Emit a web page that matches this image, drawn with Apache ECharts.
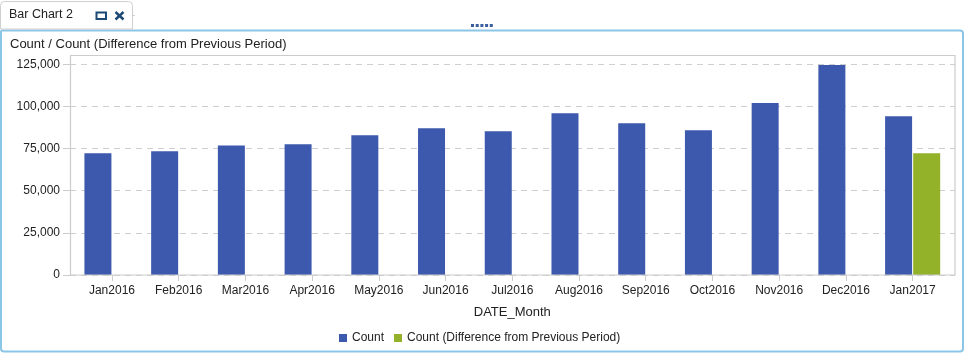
<!DOCTYPE html>
<html>
<head>
<meta charset="utf-8">
<script src="https://cdn.jsdelivr.net/npm/echarts@6/dist/echarts.min.js"></script>
<style>
html,body{margin:0;padding:0;background:#fff;}
#c{width:968px;height:355px;}
</style>
</head>
<body>
<div id="c"></div>
<script>
const categories = ['Jan2016','Feb2016','Mar2016','Apr2016','May2016','Jun2016','Jul2016','Aug2016','Sep2016','Oct2016','Nov2016','Dec2016','Jan2017'];
const countValues = [72200, 73400, 76900, 77500, 82900, 87100, 85300, 96000, 90100, 85900, 102000, 124600, 94200];
const diffValues = [null, null, null, null, null, null, null, null, null, null, null, null, 72200];
const yTicks = { min: 0, max: 125000, interval: 25000 };

const FONT = "'Liberation Sans', Arial, sans-serif";
const chart = echarts.init(document.getElementById('c'), null, { renderer: 'canvas' });

const navy = '#1d4a74';
const option = {
  animation: false,
  textStyle: { fontFamily: FONT },
  title: {
    text: 'Count / Count (Difference from Previous Period)',
    left: 5, top: 33,
    textStyle: { fontFamily: FONT, fontSize: 13, fontWeight: 'normal', color: '#222' }
  },
  legend: {
    left: 334, top: 327,
    itemWidth: 8, itemHeight: 8, itemGap: 10,
    icon: 'rect',
    textStyle: { fontFamily: FONT, fontSize: 12, color: '#222' },
    data: ['Count', 'Count (Difference from Previous Period)']
  },
  grid: [
    { left: 70, right: 13, top: 64.3, bottom: 80, show: false },
    { left: 78.6, right: 22, top: 64.3, bottom: 80, show: false }
  ],
  xAxis: [
    { gridIndex: 0, type: 'value', show: false, min: 0, max: 1 },
    {
      gridIndex: 1, type: 'category', data: categories,
      axisLine: { show: false },
      axisTick: { show: true, alignWithLabel: true, length: 6, lineStyle: { color: '#cccccc' } },
      axisLabel: { fontFamily: FONT, fontSize: 12, color: '#222', margin: 10, interval: 0 },
      name: 'DATE_Month', nameLocation: 'middle', nameGap: 31,
      nameTextStyle: { fontFamily: FONT, fontSize: 13, color: '#222' }
    }
  ],
  yAxis: [
    {
      gridIndex: 0, type: 'value', min: yTicks.min, max: yTicks.max, interval: yTicks.interval,
      axisLine: { show: false },
      axisTick: { show: true, length: 7, lineStyle: { color: '#cccccc' } },
      axisLabel: {
        fontFamily: FONT, fontSize: 12, color: '#222', margin: 10,
        formatter: v => v.toLocaleString('en-US')
      },
      splitLine: { show: true, lineStyle: { color: '#cfcfcf', type: [6, 5], width: 1 } }
    },
    {
      gridIndex: 1, type: 'value', min: yTicks.min, max: yTicks.max, interval: yTicks.interval,
      show: false, splitLine: { show: false }
    }
  ],
  series: [
    {
      name: 'Count', type: 'bar', xAxisIndex: 1, yAxisIndex: 1,
      data: countValues, barWidth: 27, barGap: '4%',
      itemStyle: { color: '#3d59ad' }
    },
    {
      name: 'Count (Difference from Previous Period)', type: 'bar', xAxisIndex: 1, yAxisIndex: 1,
      data: diffValues, barWidth: 27, barGap: '4%',
      itemStyle: { color: '#93b22a' }
    }
  ],
  graphic: [
    { type: 'rect', z: 100, silent: true,
      shape: { x: 1, y: 30.5, width: 962, height: 321, r: [0, 3, 3, 3] },
      style: { fill: 'none', stroke: '#8cc6e7', lineWidth: 2 } },
    { type: 'rect', z: 101, silent: true,
      shape: { x: 0.5, y: 1.5, width: 132, height: 27.5, r: [4, 4, 0, 0] },
      style: { fill: '#fff', stroke: '#cfcfcf', lineWidth: 1 } },
    { type: 'line', z: 101, silent: true,
      shape: { x1: 133, y1: 15.5, x2: 135, y2: 15.5 },
      style: { stroke: '#cfcfcf', lineWidth: 1 } },
    { type: 'text', z: 102, silent: true, left: 9, top: 8,
      style: { text: 'Bar Chart 2', font: '12.5px ' + FONT, fill: '#222' } },
    { type: 'rect', z: 102, silent: true,
      shape: { x: 96.5, y: 12.5, width: 9.5, height: 6.5 },
      style: { fill: 'none', stroke: navy, lineWidth: 2 } },
    { type: 'line', z: 102, silent: true,
      shape: { x1: 115.5, y1: 12, x2: 123.5, y2: 19.5 },
      style: { stroke: navy, lineWidth: 2.4 } },
    { type: 'line', z: 102, silent: true,
      shape: { x1: 123.5, y1: 12, x2: 115.5, y2: 19.5 },
      style: { stroke: navy, lineWidth: 2.4 } },
    { type: 'group', z: 102, silent: true, children: [0,1,2,3,4].map(i => ({
      type: 'rect', shape: { x: 471 + i * 4.7, y: 24, width: 3, height: 3 },
      style: { fill: '#3a5f9e' } })) },
    { type: 'rect', z: 50, silent: true,
      shape: { x: 70.5, y: 55.5, width: 884.5, height: 219.5 },
      style: { fill: 'none', stroke: '#cccccc', lineWidth: 1.2 } }
  ]
};
chart.setOption(option);
</script>
</body>
</html>
